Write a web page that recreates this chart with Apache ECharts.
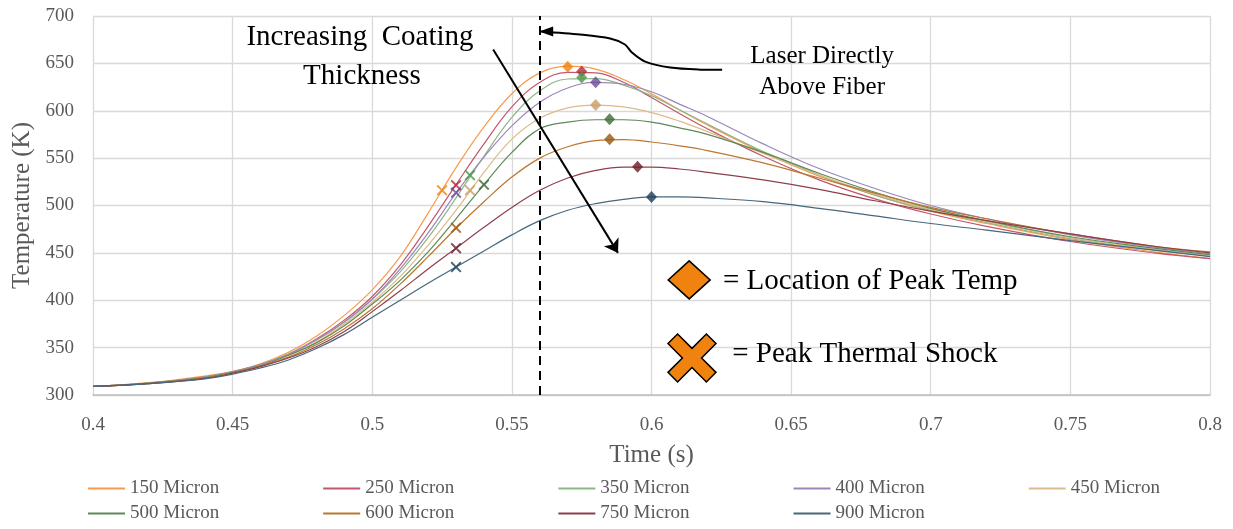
<!DOCTYPE html>
<html>
<head>
<meta charset="utf-8">
<title>Temperature vs Time</title>
<script src="https://cdn.jsdelivr.net/npm/echarts@6/dist/echarts.min.js"></script>
<style>
  html, body { margin: 0; padding: 0; background: #fff; }
  #chart { width: 1233px; height: 529px; }
</style>
</head>
<body>
<div id="chart"></div>
<script>
// time axis shared by all curves (s)
var times = [0.40, 0.42, 0.44, 0.45, 0.46, 0.47, 0.48, 0.49, 0.50, 0.51, 0.52, 0.53, 0.54, 0.55, 0.56, 0.57, 0.58, 0.59, 0.60, 0.61, 0.62, 0.64, 0.66, 0.68, 0.70, 0.72, 0.75, 0.78, 0.80];

// temperature (K) per coating thickness
var t150 = [309, 313, 320, 325, 333, 345, 362, 384, 411, 446, 492, 540, 583, 618, 640, 647, 644, 633, 618, 601, 585, 556, 531, 511, 494, 481, 464, 451, 444];
var t250 = [309, 312.5, 319, 324.5, 332, 343, 359, 379, 404, 437, 478, 522, 565, 604, 630, 640.5, 640, 630, 614, 597, 581, 552, 527, 507, 491, 478, 462, 450, 444];
var t350 = [309, 312.5, 319, 324.5, 332, 343, 358, 377, 401, 430, 466, 508, 552, 593, 621, 633.5, 634, 627, 616, 601, 586, 557, 532, 511, 495, 482, 465, 453, 447];
var t400 = [309, 312.5, 319, 324.5, 332, 343, 358, 377, 401, 433, 471, 513, 551, 584, 609, 624, 630, 628, 620, 607, 594, 565, 539, 518, 500, 486, 469, 456, 449];
var t450 = [309, 312.5, 318.5, 324, 331, 342, 356, 375, 398, 425, 458, 495, 535, 570, 592, 603, 606, 604, 598, 589, 578, 555, 532, 512, 496, 483, 466, 454, 447];
var t500 = [309, 312.5, 318.5, 324, 331, 342, 355, 373, 396, 421, 451, 486, 522, 556, 581, 588, 590.5, 590.5, 588, 582, 575, 556, 534, 514, 497, 484, 467, 455, 448];
var t600 = [309, 312, 318, 323.5, 330.5, 340, 353, 370, 391, 417, 446, 476, 504, 530, 550, 562, 568.5, 569.5, 567, 563, 558, 545, 529, 513, 498, 486, 470, 457, 451];
var t750 = [309, 312, 317.5, 323, 330, 339, 351, 367, 388, 410, 433, 455, 477, 498, 516, 529, 537, 540.5, 540.5, 538.5, 535, 527, 517, 505, 494, 484, 470, 457, 450];
var t900 = [309, 312, 317, 322, 328.5, 337, 349, 364, 382, 400, 418, 435, 452, 469, 484, 495, 502, 506.5, 509, 509, 508, 504, 497, 489, 481, 474, 463, 453, 446];

var names = ['150 Micron', '250 Micron', '350 Micron', '400 Micron', '450 Micron', '500 Micron', '600 Micron', '750 Micron', '900 Micron'];
var curves = [t150, t250, t350, t400, t450, t500, t600, t750, t900];

// peak temperature and peak thermal shock points
var peakTime = [0.57, 0.575, 0.575, 0.58, 0.58, 0.585, 0.585, 0.595, 0.60];
var peakTemp = [646.5, 641.5, 635, 630, 606, 591, 570, 541, 509];
var shockTime = [0.525, 0.53, 0.535, 0.53, 0.535, 0.54, 0.53, 0.53, 0.53];
var shockTemp = [516, 521.5, 532, 513.5, 516, 522, 476.5, 455, 435];

var xTicks = { min: 0.4, max: 0.8, step: 0.05 };
var yTicks = { min: 300, max: 700, step: 50 };
var laserTime = 0.56;

var lineColors = ['#F79B4E', '#C2566A', '#8DB787', '#9C86BA', '#DDBB88', '#5E8A57', '#BC762F', '#8F3F4C', '#46687F'];
var markColors = ['#F0820F', '#B2283B', '#4C9A45', '#6A4C93', '#C89E62', '#3F6B37', '#9A570E', '#6C1B26', '#1C3D57'];

var font = 'Liberation Serif';
var smallX = 'path://M0,3 L3,0 L12,9 L21,0 L24,3 L15,12 L24,21 L21,24 L12,15 L3,24 L0,21 L9,12 Z';
// big key cross, 24x24 box
var bigX = [[0, 4.8], [4.8, 0], [12, 7.2], [19.2, 0], [24, 4.8], [16.8, 12], [24, 19.2], [19.2, 24], [12, 16.8], [4.8, 24], [0, 19.2], [7.2, 12]];

var chart = echarts.init(document.getElementById('chart'));

var series = [];
for (var i = 0; i < curves.length; i++) {
    series.push({
        name: names[i],
        type: 'line',
        smooth: 0.4,
        symbol: 'none',
        showSymbol: false,
        data: times.map(function (t, k) { return [t, this[k]]; }, curves[i]),
        lineStyle: { width: 1.2, color: lineColors[i] },
        itemStyle: { color: lineColors[i] },
        z: 2
    });
}

series.push({
    name: 'peak',
    type: 'scatter',
    symbol: 'diamond',
    symbolSize: [11, 12],
    z: 5,
    data: peakTime.map(function (t, k) {
        return { value: [t, peakTemp[k]], itemStyle: { color: markColors[k] } };
    }),
    markLine: {
        silent: true,
        symbol: ['none', 'none'],
        label: { show: false },
        lineStyle: { color: '#000', width: 2, type: [9, 6] },
        data: [{ xAxis: laserTime }]
    }
});

series.push({
    name: 'shock',
    type: 'scatter',
    symbol: smallX,
    symbolSize: 11,
    z: 5,
    data: shockTime.map(function (t, k) {
        return { value: [t, shockTemp[k]], itemStyle: { color: markColors[k] } };
    }),
    // "increasing coating thickness" arrow
    markLine: {
        silent: true,
        symbol: ['none', 'arrow'],
        symbolSize: 13,
        label: { show: false },
        lineStyle: { color: '#000', width: 2, type: 'solid' },
        data: [[{ coord: [0.5433, 664.7] }, { coord: [0.588, 450] }]]
    }
});

var legendBase = {
    icon: 'rect',
    padding: 0,
    itemWidth: 37,
    itemHeight: 2,
    itemGap: 104,
    textStyle: { fontFamily: font, fontSize: 19, color: '#595959' }
};

var option = {
    animation: false,
    textStyle: { fontFamily: font },
    grid: { left: 93, right: 23, top: 16, bottom: 134 },
    legend: [
        Object.assign({ data: names.slice(0, 5), left: 88, top: 479 }, legendBase),
        Object.assign({ data: names.slice(5), left: 88, top: 504 }, legendBase)
    ],
    xAxis: {
        type: 'value',
        min: xTicks.min, max: xTicks.max, interval: xTicks.step,
        name: 'Time (s)',
        nameLocation: 'middle',
        nameGap: 48,
        nameTextStyle: { fontFamily: font, fontSize: 25, color: '#595959' },
        axisLine: { show: true, lineStyle: { color: '#BFBFBF', width: 1.5 } },
        axisTick: { show: false },
        axisLabel: { fontFamily: font, fontSize: 19, color: '#595959', margin: 21 },
        splitLine: { show: true, lineStyle: { color: '#D9D9D9', width: 1.3 } }
    },
    yAxis: {
        type: 'value',
        min: yTicks.min, max: yTicks.max, interval: yTicks.step,
        name: 'Temperature (K)',
        nameLocation: 'middle',
        nameGap: 55,
        nameRotate: 90,
        nameTextStyle: { fontFamily: font, fontSize: 25, color: '#595959' },
        axisLine: { show: false },
        axisTick: { show: false },
        axisLabel: { fontFamily: font, fontSize: 19, color: '#595959', margin: 19 },
        splitLine: { show: true, lineStyle: { color: '#D9D9D9', width: 1.3 } }
    },
    series: series
};
chart.setOption(option);

// annotations, anchored in data space
function px(p) { return chart.convertToPixel({ gridIndex: 0 }, p); }

var laserCurve = [[0.5605, 683.6], [0.5744, 680.4], [0.5852, 676.2], [0.5905, 669.9], [0.5930, 661.4],
    [0.5977, 651.9], [0.6067, 645.6], [0.6174, 643.4], [0.6253, 643.4]];
var curvePts = laserCurve.map(px);
var tip = curvePts[0];

function label(text, p, size, align) {
    var q = px(p);
    return {
        type: 'text', x: q[0], y: q[1], z: 10,
        style: { text: text, fontFamily: font, fontSize: size, fill: '#000', align: align || 'center', verticalAlign: 'middle' }
    };
}

var dKey = px([0.6135, 421.5]);
var xKey = px([0.6145, 339.1]);

chart.setOption({
    graphic: [
        label('Increasing  Coating', [0.4956, 677.5], 29),
        label('Thickness', [0.4963, 636], 29),
        label('Laser Directly', [0.6611, 657.2], 25),
        label('Above Fiber', [0.6611, 624.4], 25),
        {
            type: 'polyline', z: 10,
            shape: { points: curvePts, smooth: 0.3 },
            style: { stroke: '#000', lineWidth: 2, fill: null }
        },
        {
            type: 'polygon', z: 10,
            shape: { points: [[tip[0] - 2, tip[1]], [tip[0] + 12, tip[1] - 5], [tip[0] + 12, tip[1] + 5]] },
            style: { fill: '#000' }
        },
        {
            type: 'polygon', z: 10,
            shape: { points: [[dKey[0], dKey[1] - 19], [dKey[0] + 21, dKey[1]], [dKey[0], dKey[1] + 19], [dKey[0] - 21, dKey[1]]] },
            style: { fill: '#F0820F', stroke: '#000', lineWidth: 1.5 }
        },
        label('= Location of Peak Temp', [0.6256, 419.4], 29, 'left'),
        {
            type: 'polygon', z: 10,
            shape: { points: bigX.map(function (p) { return [xKey[0] - 24 + p[0] * 2, xKey[1] - 24 + p[1] * 2]; }) },
            style: { fill: '#F0820F', stroke: '#000', lineWidth: 1.5 }
        },
        label('= Peak Thermal Shock', [0.6289, 343.3], 29, 'left')
    ]
});
</script>
</body>
</html>
